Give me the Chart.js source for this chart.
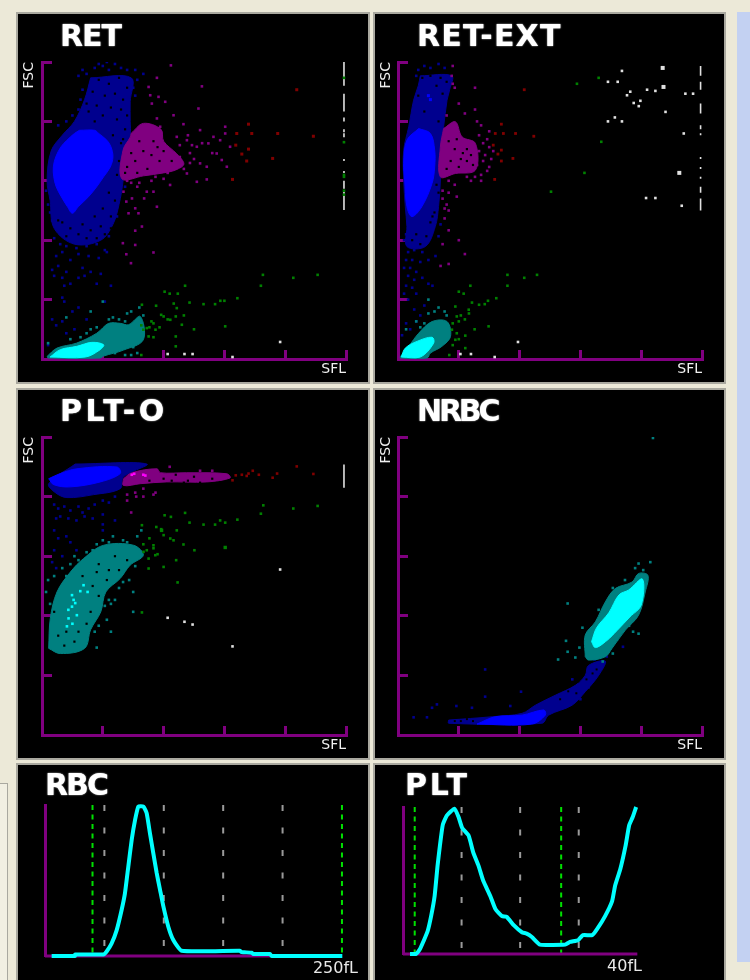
<!DOCTYPE html>
<html><head><meta charset="utf-8"><title>RET RET-EXT PLT-O NRBC RBC PLT</title>
<script src="https://cdn.jsdelivr.net/npm/chart.js@4"></script>
<style>
html,body{margin:0;padding:0;background:#ece9d8;width:750px;height:980px;overflow:hidden}
canvas{position:absolute;background:#000;outline:2px solid #a9a89f;filter:blur(.3px)}
.deco{position:absolute}
</style></head><body>
<div class="deco" style="left:737px;top:12px;width:13px;height:950px;background:#c3d1f2"></div>
<div class="deco" style="left:-1px;top:783px;width:7px;height:200px;border:1px solid #a9a89f;background:#f1efe2"></div>
<canvas id="c1"></canvas><canvas id="c2"></canvas><canvas id="c3"></canvas><canvas id="c4"></canvas><canvas id="c5"></canvas><canvas id="c6"></canvas>
<script>
// all scatter values are [SFL,FSC, SFL,FSC, ...] in channels 0-150
const retDark=[24,142,44,142,43.5,130,43.5,120,43.5,113,41,105,40,90,38,78,35,68,29,60,16,58,6,66,4,80,2.5,90,4.5,105,10,113,16,120,21,131];
const retCore=[18.5,115.5,26,115.5,28,113.9,32,110.5,34,107.2,35,102.1,33.7,97,30.4,92,27,87,23,82,18,77,15,73.6,12.5,77,9.5,82,7,87,5.8,92,5.6,97,6.8,102.1,9.4,107.2,12.3,110.5,16,113.9];
const retHoles=[28,141,33,139,38,142,42,137,25,135,31,133,36,134,40,131,27,128,34,127,39,126,23,125,30,123,37,121,42,123,26,120,41,116,35,113,39,109,38,100,37,93,33,84,36,80,30,76,26,72,34,72,20,68,14,66,24,65,29,67,10,69,31,63,18,63,40,111,22,129,8,70,12,62,7,63,22,61,27,61,34,66];
const retBlueDots=[26,147,30,148,33,146,36,149,39,147,42,146,46,146,50,144,20,146,18,143,28,149,32,150,47,141,22,144,45,137,46,133,20,136,19,131,18,126,15,123,12,120,8,118,2,85,3,78,4,74,5,70,37,72,37,83,41,87,41,97,33,62,6,61,9,58,12,57,17,56,22,57,27,58,31,55,7,52,10,54,14,50,18,53,23,52,28,51,32,54,5,45,8,47,6,42,10,41,11,37,12,44,14,38,20,46,21,42,24,44,18,41,29,43,27,38,34,37,10,31,11,29,15,24,18,26,5,20,7,17,10,19,12,13,16,15,3,7,22,20,31,29];
const retPurpleBlock=[44,114,50,119,58.7,116,60,110,66.5,103.6,70,98.5,66,95.5,60,94,50,92.5,39.4,91,40,105.5,43.5,112];
const retPurpleHoles=[50,105,46,100,55,110,42,97,52,96,60,105,48,110,44,104,58,100,64,100,54,103,47,94,41,94,57,107];
const retPurpleDots=[56.7,142,52.6,137.4,53.4,133.2,57.5,132.4,60.8,129.9,54.2,129,78.9,137.7,77.2,126.5,63.6,148.3,64.9,123.1,69.8,118.6,56.7,121.5,58.3,117.3,78,115.6,84.6,112.2,90.4,117.3,90.4,113.9,87.9,110.5,92.8,107.2,86.2,103.8,88.7,100.5,91.2,97.1,82.1,108.9,76.4,107.2,71.5,110.5,66.5,112.2,78,98.8,81.3,97.1,71.5,93.7,76.4,89.5,81.3,90.7,63.2,87.9,51.7,84.5,55,84.5,40.2,84.5,44.4,81.1,41.6,79.5,50.4,81.1,56.7,76.9,46,76.1,42.7,73.6,47.6,73.6,46,64.8,49.3,66.9,39.9,58.5,46,57.6,41.6,52.9,55,53.8,43.9,48.4,73,104,75,101,68,108,70,96,60,91,56,92,48,89,44,89,72,113,74,108,79,109,84,104,68,102,65,96,73,99,62,94,54,90,47,87,42,90];
const retRed=[125.7,136,101.9,118.6,96.1,113.9,103.5,113.9,116.3,113.9,133.9,112.5,95.6,108,101.9,106,98.6,103.5,113.8,101.3,101,100,94,90.7];
const retGreen=[109,42.5,124,41,136,42.5,108,37,70.6,37,60.5,34,63,33,67,33,96.4,30.7,90,29.4,88,29.4,85.4,27.7,79.7,27.7,72.8,28.5,65,28,56.3,26.9,49.3,27.4,66.5,25.7,58.8,22.3,60,21.5,63.3,19.8,66,21.5,70,22,69,17.3,75,15,90.4,16.5,55,18,51.7,15.6,50,14.8,56,14.8,52.6,11.4,55,11,66,11.4,49,2,66,6.4,53,16,54,19,49,17,58,16,62,20];
const retWhite=[62,2.5,70.3,2.5,74.3,2.5,94,1,117.5,8.6];
const retTeal=[2.5,1.3,7.4,5.5,17,8,27,13,32.9,18,38.7,18,42.7,17.3,48.5,21.5,50,9.7,40.2,4.5,30.4,1.5,28.7,.5,3,.5];
const retTealDots=[24,24,30,29,48,26,3,8,42,23,44,24,50,22,47,3,44,2,12,21,38,20,41,19,35,21,33,20,27,16,22,13,24,15,19,11,14,10,45,6,41,2,36,3];
const retCyan=[4,1,9,4.7,17.2,6.4,24.6,8.4,30.4,7.2,28.7,4.7,21.4,1];
const retColumnX=[149];
const retColumnRuns=[150,138,134,125,122,120,116,114.5,114,112,101,100,95,94,90,86,85,75.3];
const retColumnGreen=[149,142,149,109.5,149,93,149,92,149,85,149,83];

const extDark=[11,143,26.5,143,25.5,136,24.2,130.7,22.5,117.3,20.9,105.5,20.9,90.4,20,77,18.4,66.9,13.5,56.8,4.4,56.8,4.4,66.9,3.6,77,2.8,90.4,2.8,105.5,5.3,117.3,7.7,130.7,10,138];
const extCore=[10.2,116.4,16,113.9,18.1,105.5,18.1,97,16.8,88.7,11.8,77,6.9,71.9,4.4,77,3.3,90.4,2.8,98.8,4.4,110.5];
const extHoles=[12,142,16,143,21,142,24,140,19,138,22,134,10,133,13,125,20,120,18,74,16,69,9,63,14,62,7,60,11,58,17,72,20,84,19,88];
const extBlueDots=[10,146,13,148,16,147,20,149,23,147,9,143,5,54,8,55,12,54,4,50,7,50,11,49,15,50,3,46,6,46,9,44,5,42,8,40,12,41,15,38,4,37,7,36,9,33,17,37,3,33,5,30,8,25,11,22,4,18,6,15,2,12,9,19,13,27,18.5,52,3,60,4,63,21,68,20,62];
const extBright2=[15,133,16,131];
const extPurpleBlock=[22.5,116.4,28.3,119.8,31.6,112.2,38.2,108.9,38.2,95.4,28.3,93.7,20.9,92,20.9,107];
const extPurpleHoles=[25,110,28,106,32,104,36,103,26,100,30,97,34,100,37,98,24,96,29,111,34,106,31,101];
const extPurpleDots=[27,148,26.5,143,27,139,28,137,38,137,30,129,38,126,33,124,24,123,39,120,41,118,45,115,40,113,44,111,42,109,45,107,47,105,43,103,46,101,45,97,41,93,38,92,36,90,28,88,25,90,22,85,25,84,29,82,22,81,24,78,23,76,25,75,23,71,25,65,22,58,33,53,30,60,21,47,25,48,40,105,42,100,39,98,44,95,41,90,34,92];
const extRed=[62.3,136,51,118.6,48,113.9,52,113.9,58,113.9,67,112.5,47,108,51,105.5,49.3,103.5,51,100,56.7,101.3,47.7,90.7];
const extGreen=[99,142,88.3,139,100.3,109.7,92,94,75.5,84.5,54,42.5,62.3,41,68.6,42.5,54,37,35.7,37,32.4,33,30,34,48.5,30.7,44.4,29.4,42.8,27.7,40,27.4,36.5,28.5,34.9,24.9,37.8,15,44.7,16.5,33.2,11.8,33.2,5.5,25.3,2,28.3,26.5,29,21.5,26.6,14.8,28.3,9.7,31,22,33,20,30,19,35,23,27,18,29,13,30,10,27,7];
const extWhite=[110.5,145.5,103.6,140,108.4,140,114.6,135,113,133.2,122.9,136,127,135.4,141.8,134,145.6,134,116.3,129.3,119.6,130.4,118.8,127.7,132,124.8,103.6,120,107,122,110.5,120,141,113.9,122.4,81.3,127,81.3,140,77.4,30.8,2.5,36,2.5,47.7,1,59.2,8.6];
const extWhiteBig=[130.6,147,131,137.4,138.8,94];
const extTeal=[1.2,1.3,5.3,6.4,10.2,13,16.8,18.9,24.2,18.9,25.9,11.4,21.7,6.4,16,3,14.3,.5,1.2,.5];
const extTealDots=[15,23,18,24,23,24,15,30,4,15,9,19,24,22,20,26,13,18,11,16];
const extCyan=[1.6,1,3.6,5.5,9.4,8.9,16.8,11,17.6,8,11,1];
const extColumnX=[149.3];
const extColumnRuns=[148,143,140,136,129,124,118,116,114,113,102,101,97,96,92,91,87,84,81,75];

const pltDark=[16.4,136.4,51.7,136.4,40.2,129.9,38.6,124,25.5,121,12.3,119.5,6.6,122,3.3,126.5];
const pltCore=[3.3,129,9,131.6,17.2,134,37,134.9,38.6,131.6,28.8,127.4,14,124.9,5.8,126];
const pltBlueDots=[6,116,8,114,11,115,14,113,18,115,20,112,23,114,26,116,30,118,33,117,36,120,7,109,9,110,13,109,17,108,21,110,25,109,30,111,6,103,8,99,12,100,14,97,6,93,5,87,7,84,10,90,30,106,36,108,17,93,30,103];
const pltPurple=[40.2,129,44.3,132,56.7,134,58.4,132,71.4,132,91.2,131.5,92.8,129.4,81.3,127.4,61.6,127.4,48.5,126.5,40.2,125.6];
const pltPurpleHoles=[60,129,66,131,72,128,75,130,78,127,84,129,88,127,70,127,64,128,53,128];
const pltPurpleDots=[63,135,78,133,84,133,50,124,46,122,42,121,50,120,56,122,46.5,120,42,118,55,121,44,112];
const pltMagenta=[44.3,131,45.5,131.5,50,131,51,130.6];
const pltRed=[125.7,135.2,116,131.6,133.9,131.4,113.8,129.5,101.9,131.6,101,130.4,98.6,131,95.6,130.7,94,128.2,104,133,107,131];
const pltGreen=[109.2,115.6,124,114,136,115.3,108,111.4,70.6,111.8,60.5,110.6,63.6,109.8,72.8,106.9,87.9,108,96.4,108.4,90.4,106.9,85.4,105.9,79.7,105.9,56.4,104.7,49.3,105.6,58.8,103.6,66.5,103,60,100.6,63.3,98.9,64.9,98,69.8,95.9,75.2,93,55,95.5,51.7,93,50.1,92.2,55.9,90.5,52.6,88.8,66.2,88,60,84.6,52.6,83.8,66.9,76.8,49.3,61.7,53,99,55,94,57,91,50,96];
const pltGreenBig=[90.4,94.4,59,103];
const pltWhite=[117.5,83.3,62,59,70.3,57,74.3,55.6,94,44.6];
const pltTeal=[3.3,43.6,4.1,58.7,7.4,72,14,82,20.5,88.8,30.4,95.5,45.2,95.5,50,90.5,43.5,85.5,38.6,78.8,31.5,72,29,62,24,53,21,43.6,9,41];
const pltTealHoles=[28,86,36,90,38,83,42,88,32,78,28,70,24,62,22,56,16,47,11,45,8,50,6,62,20,80,33,83,25,75,18,52,12,52,27,82];
const pltTealDots=[25,93,22,92,30,98,35,100,40,98,47,100,49,103,47,92,46,85,40,77,38,74,43,78,45,72,33,68,36,68,31,65,34,66,32,58,28,55,26,52,34,52,27,44,2,72,4,66,3,78,6,80,10,84,14,86,16,90,45,62,27,96,33,97,42,97,18,88,12,80];
const pltCyanDots=[14.8,70.4,15.6,68,14.8,64.6,13.1,58.7,18.9,72.4,20.5,75.4,22.5,72,16.4,66.4,12.3,54.7,17.2,60.3,13,63,15,56];
const pltColumn=[149,136.2,149,124.5];

const nrbcDark=[25,7.5,46.4,9.2,61.2,10.9,67.8,15,77.6,20,87.5,25,92.4,30,94,35,102.3,37.2,99,30,92.4,21.8,85.9,15,74.3,10,71,5.9,25,5.9];
const nrbcCore=[39,5.5,48,9.2,61.2,10,71.9,12.6,72.7,10,66,5.5];
const nrbcHoles=[28,7,31,7,34,8,37,7,89,27,93,28,84,22,96,31,98,33,80,18,88,21];
const nrbcBlueDots=[7.7,8.9,14.3,8.9,19.2,15.4,16.8,13.7,28.8,14.6,36.5,13.7,43,33,43,19.3,60.7,21.8,55.4,14.6,94,24,111,44.4,90,18,86,28,97,38,100,39.5,103,39.5];
const nrbcTeal=[92.4,39.4,92.4,50.3,97.4,57,102.3,67,107.2,73.7,115.5,77,118.7,81.3,123.3,80.4,122,72,118.7,60.3,112.2,52.8,105.6,43.6,102.3,39.4,94,37.7];
const nrbcCyan=[95.5,46.9,98,54,104,61.5,109,70.5,113.8,73,120.6,78.5,120,65.4,114.5,59.5,108,52.5,103,47.5,97.4,44];
const nrbcTealDots=[125.8,149.5,83.7,66.2,124.5,87,118.7,86.3,82.9,47.4,83.7,41.9,79,38,87.5,39,89.5,44,118.7,51,106,74,99,63,91,54,114,55,116,52,108,48,106,41,101,37,99,40,112,78,117,84,121,83];

// histogram values: x in fL, y in % of peak
const rbcFl=[5.6,25.3,25.4,49.1,51.9,56.1,60.3,64.5,67.3,70.1,73,75.8,78.6,82.8,85.6,88.4,91.2,94,96.8,99.6,103.8,108,115,164,165.5,174,175.4,189.4,190.8,250.3];
const rbcCount=[0,0,1,1,3,8.4,17,30.5,41.5,59,77,90,99,99,94.5,81,68,55,44,33,19.4,10.6,3.5,3.5,2.6,2.2,1.3,1.3,0,0];
const rbcGuideFl=[50,100,150,200];
const rbcLimitFl=[40,250];
const rbcAxisEnd=[190];
const pltFl=[1.2,2.2,2.9,3.5,4.2,4.8,5.4,5.9,6.3,6.8,7.5,8.8,9.5,10.1,11.2,12,12.9,13.7,14.9,15.8,16.9,17.7,18.9,20.3,21.1,22,23.4,27.7,28.5,29.9,30.7,32.3,33.1,34.5,35.7,36.2,37.1,38,38.6,39.2,39.8];
const pltCount=[0,0,3.4,8.7,15.5,25.8,39.5,60,73.7,88,94.3,98.9,93,85.8,80.6,69,60,49.8,39.5,30.4,25.8,25.3,19.6,14.8,13.9,11.6,6.4,6.4,8.2,9.4,12.8,12.8,16.7,25.8,36,46.3,57.8,73.7,87.4,93,100];
const pltGuideFl=[10,20,30];
const pltLimitFl=[2,27];
const pltAxisEnd=[40];

const C={purple:'#800080',dark:'#00008e',blue:'#0000ff',teal:'#008080',cyan:'#00ffff',green:'#008000',red:'#800000',white:'#e0e0e0',mag:'#ff00ff'};
const pts=a=>{const o=[];for(let i=0;i<a.length;i+=2)o.push({x:a[i],y:a[i+1]});return o;};
const poly=(a,c)=>({type:'scatter',showLine:true,data:[...pts(a),{x:a[0],y:a[1]}],fill:'shape',backgroundColor:c,borderColor:c,borderWidth:1,pointRadius:0,tension:.35,clip:false});
const dots=(a,c,s=2.6)=>({type:'scatter',data:pts(a),pointStyle:'rect',pointRadius:s/Math.SQRT2,pointBorderWidth:0,backgroundColor:c,borderColor:c});
const column=(x,runs,c)=>{const d=[];for(let i=0;i<runs.length;i+=2)d.push({x,y:runs[i]},{x,y:runs[i+1]},{x,y:NaN});return{type:'scatter',showLine:true,data:d,borderColor:c,borderWidth:1.6,pointRadius:0,spanGaps:false};};
const titleAt={id:'titleAt',afterLayout(ch){const o=ch.options.plugins.titleAt,t=ch.titleBlock;if(t._patched)return;t._patched=true;const d=t.draw;
 t.draw=function(){const c=this.ctx;c.save();c.letterSpacing=o.spacing+'px';c.shadowColor='#fff';c.shadowBlur=1.5;this.left=o.x;this.right=ch.width;d.call(this);c.restore();};}};
const font='"DejaVu Sans"';

function panel(id,box,title,area,sets,xopts){
 const cv=document.getElementById(id);
 cv.style.left=box[0]+'px';cv.style.top=box[1]+'px';cv.width=box[2];cv.height=box[3];
 const hist=!!xopts;
 const xs=hist?{type:'linear',min:0,max:xopts.max,afterBuildTicks:s=>{s.ticks=[];},
   ticks:{display:false},grid:{display:false},border:{display:false},
   title:{display:true,text:xopts.label,align:'end',color:'#e8e8e8',font:{family:font,size:16},padding:{top:area.xTop,bottom:area.xBot}},
   afterFit:s=>{s.height=box[3]-area.bottom;}}
  :{type:'linear',min:0,max:150,ticks:{display:false,stepSize:30},
   grid:{drawOnChartArea:false,color:C.purple,lineWidth:3,tickLength:-9},border:{color:C.purple,width:3},
   title:{display:true,text:'SFL',align:'end',color:'#f0f0f0',font:{family:font,size:14},padding:{top:3,bottom:4}},
   afterFit:s=>{s.height=box[3]-area.bottom;}};
 const ys=hist?{type:'linear',min:0,max:100,ticks:{display:false,stepSize:100},
   grid:{display:false},border:{color:C.purple,width:3},afterFit:s=>{s.width=area.left;}}
  :{type:'linear',min:0,max:150,ticks:{display:false,stepSize:30},
   grid:{drawOnChartArea:false,color:C.purple,lineWidth:3,tickLength:-10},border:{color:C.purple,width:3},
   title:{display:true,text:'FSC',align:'end',color:'#f0f0f0',font:{family:font,size:14},padding:{top:3,bottom:0}},
   afterFit:s=>{s.width=area.left;}};
 new Chart(cv,{type:'scatter',data:{datasets:sets.slice().reverse()},plugins:[titleAt],options:{
  responsive:false,animation:false,devicePixelRatio:1,
  layout:{padding:{left:0,top:0,bottom:0,right:box[2]-area.right}},
  scales:{x:xs,y:ys},
  plugins:{legend:{display:false},tooltip:{enabled:false},titleAt:{x:area.titleX,spacing:area.spacing},
   title:{display:true,text:title,align:'start',color:'#fff',font:{family:font,size:30,lineHeight:1},padding:{top:area.titlePad,bottom:area.top-30-area.titlePad}}}
 }});
}
function dashedV(x,top,c,dash,w){return{type:'scatter',showLine:true,data:[{x,y:top},{x,y:0}],borderColor:c,borderWidth:w,borderDash:dash,pointRadius:0};}
function curve(xa,ya){return{type:'scatter',showLine:true,data:xa.map((x,i)=>({x,y:ya[i]})),borderColor:'#00ffff',borderWidth:4,pointRadius:0,tension:.15,clip:false};}
function base(end){return{type:'scatter',showLine:true,data:[{x:0,y:0},{x:end,y:0}],borderColor:C.purple,borderWidth:3,pointRadius:0,clip:false};}

const A1={left:24,right:328,top:48,bottom:345,titleX:42,titlePad:9,spacing:-1};
const A2={left:23,right:327,top:48,bottom:345,titleX:42,titlePad:9,spacing:1.2};
const A3={left:24,right:328,top:47,bottom:345,titleX:42,titlePad:8,spacing:3.5};
const A4={left:23,right:327,top:47,bottom:345,titleX:42,titlePad:8,spacing:-3.2};

panel('c1',[18,14,350,368],'RET',A1,[
 poly(retDark,C.dark),dots(retHoles,'#000',2.2),dots(retBlueDots,C.dark),
 poly(retCore,C.blue),
 poly(retPurpleBlock,C.purple),dots(retPurpleHoles,'#000',2.2),dots(retPurpleDots,C.purple),
 dots(retRed,C.red,3),poly(retTeal,C.teal),dots(retTealDots,C.teal),poly(retCyan,C.cyan),
 dots(retGreen,C.green),dots(retWhite,C.white),
 column(retColumnX[0],retColumnRuns,C.white),dots(retColumnGreen,C.green)]);
panel('c2',[375,14,349,368],'RET-EXT',A2,[
 poly(extDark,C.dark),dots(extHoles,'#000',2.2),dots(extBlueDots,C.dark),
 poly(extCore,C.blue),dots(extBright2,C.blue,3),
 poly(extPurpleBlock,C.purple),dots(extPurpleHoles,'#000',2.2),dots(extPurpleDots,C.purple),
 dots(extRed,C.red,2.8),poly(extTeal,C.teal),dots(extTealDots,C.teal),poly(extCyan,C.cyan),
 dots(extGreen,C.green),dots(extWhite,C.white),dots(extWhiteBig,C.white,4),
 column(extColumnX[0],extColumnRuns,C.white)]);
panel('c3',[18,390,350,368],'PLT-O',A3,[
 poly(pltDark,C.dark),dots(pltBlueDots,C.dark),poly(pltCore,C.blue),
 poly(pltPurple,C.purple),dots(pltPurpleHoles,'#000',2.2),dots(pltPurpleDots,C.purple),dots(pltMagenta,C.mag,2.6),
 dots(pltRed,C.red),poly(pltTeal,C.teal),dots(pltTealHoles,'#000',2.2),dots(pltTealDots,C.teal),dots(pltCyanDots,C.cyan),
 dots(pltGreen,C.green),dots(pltGreenBig,C.green,3.4),dots(pltWhite,C.white),
 column(pltColumn[0],[pltColumn[1],pltColumn[3]],C.white)]);
panel('c4',[375,390,349,368],'NRBC',A4,[
 poly(nrbcDark,C.dark),dots(nrbcHoles,'#000',2),dots(nrbcBlueDots,C.dark),poly(nrbcCore,C.blue),
 poly(nrbcTeal,C.teal),dots(nrbcTealDots,C.teal),poly(nrbcCyan,C.cyan)]);
panel('c5',[18,765,350,215],'RBC',{left:27,right:340,top:40,bottom:191,titleX:27,titlePad:7,spacing:-2,xTop:3,xBot:2},[
 ...rbcGuideFl.map(x=>dashedV(x,100,'#9a9a9a',[6,16.5],2)),
 ...rbcLimitFl.map(x=>dashedV(x,100,'#00e000',[5,4.5],2)),
 base(rbcAxisEnd[0]),
 curve(rbcFl,rbcCount)],{max:263.5,label:'250fL'});
panel('c6',[375,765,349,215],'PLT',{left:28,right:267,top:42,bottom:189,titleX:30,titlePad:7,spacing:2.7,xTop:3,xBot:4},[
 ...pltGuideFl.map(x=>dashedV(x,100,'#9a9a9a',[6,16.5],2)),
 ...pltLimitFl.map(x=>dashedV(x,100,'#00e000',[5,4.5],2)),
 base(pltAxisEnd[0]),
 curve(pltFl,pltCount)],{max:40.8,label:'40fL'});
</script></body></html>
